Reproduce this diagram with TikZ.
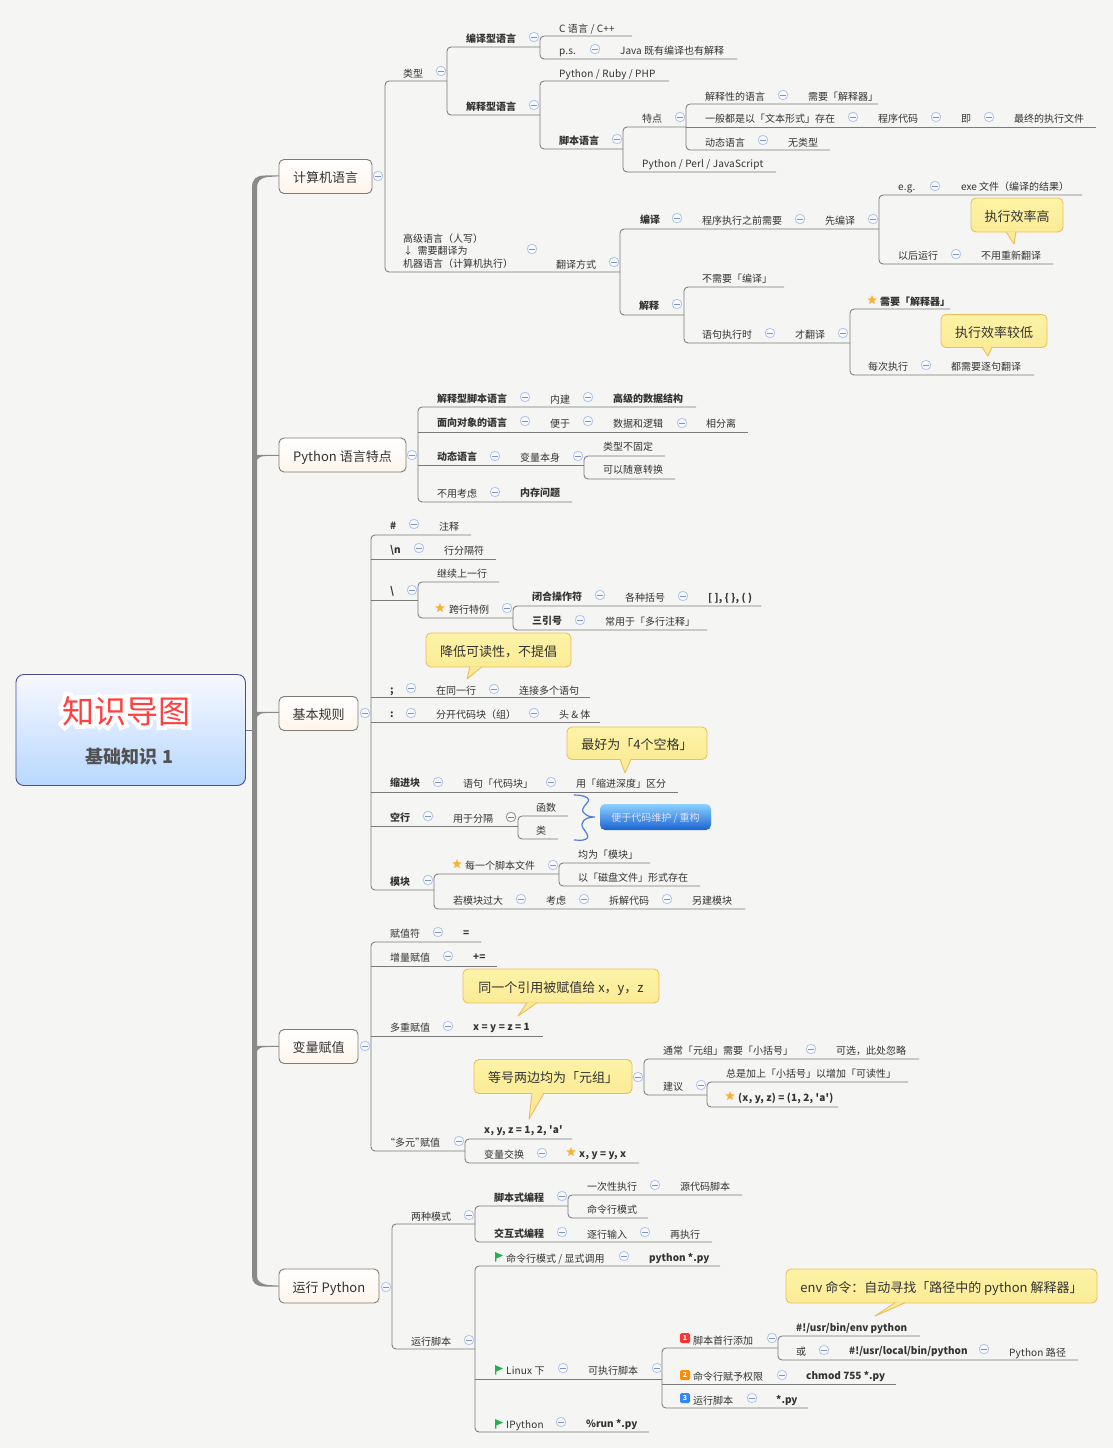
\documentclass[tikz,border=0pt]{standalone}
\usepackage{fontspec}
\setmainfont{Noto Sans CJK SC}[Ligatures=TeXOff]
\usetikzlibrary{shapes.geometric}
\definecolor{paper}{HTML}{F5F5F3}
\definecolor{txt}{HTML}{333333}
\definecolor{rowc}{HTML}{7A7A7A}
\definecolor{trunkc}{HTML}{8A8A8A}
\definecolor{foldc}{HTML}{B4C8F0}
\definecolor{minusc}{HTML}{7F93C4}
\definecolor{staro}{HTML}{F7B23B}
\definecolor{flagg}{HTML}{22B14C}
\definecolor{notet}{HTML}{FDF3A6}
\definecolor{noteb}{HTML}{FBEB96}
\definecolor{noted}{HTML}{EDBE5E}
\definecolor{bracec}{HTML}{4A80D8}
\newcommand{\rowl}[4]{\coordinate (#1a) at (#2,#4); \coordinate (#1b) at (#3,#4);}
\newcommand{\halo}[1]{\rlap{\color{white}\addfontfeature{FakeBold=25}#1}#1}
\tikzset{
  lab/.style={anchor=west,inner sep=0,text=txt,text height=10,text depth=2,font=\fontsize{10}{10}\selectfont},
  labb/.style={lab,font=\fontsize{10}{10}\selectfont\bfseries},
  labl/.style={lab,font=\fontsize{10}{10}\selectfont\addfontfeature{LetterSpace=1.6}},
  labbl/.style={lab,font=\fontsize{10}{10}\selectfont\bfseries\addfontfeature{LetterSpace=2}},
  link/.style={draw=rowc,line width=.85},
  tree/.style={link,rounded corners=4},
  fold/.style={circle,draw=foldc,fill=white!90!foldc,line width=.9,minimum size=9.5,inner sep=0,
    path picture={\draw[minusc,line width=.8] (-2.6,0)--(2.6,0);}},
  foldg/.style={fold,draw=gray!80,path picture={\draw[gray,line width=.8] (-2.6,0)--(2.6,0);}},
  topicb/.style={draw=rowc!90!brown,rounded corners=5,line width=.9,top color=white,bottom color=orange!8,
    inner sep=0,minimum height=34,text=txt,text height=15,text depth=2.4,font=\fontsize{13}{13}\selectfont},
  note/.style={draw=noted,rounded corners=5,line width=.9,top color=notet,bottom color=noteb,
    inner sep=0,minimum height=34,text=txt,text height=15,text depth=2.4,font=\fontsize{13}{13}\selectfont},
  tail/.style={draw=noted,line width=.9,fill=noteb,line join=round},
  starm/.style={star,star points=5,star point ratio=2.3,fill=staro,minimum size=10,inner sep=0},
  numm/.style={fill=#1,rounded corners=1.5,minimum size=10,inner sep=0,text=white,font=\fontsize{7}{7}\selectfont\bfseries},
}
\begin{document}
\begin{tikzpicture}[x=1pt,y=-1pt]
\fill[paper] (0,0) rectangle (1113,1448);
\useasboundingbox (0,0) rectangle (1113,1448);
% trunk
\fill[trunkc] (252,1276) -- (252,188) .. controls (252,179) and (256,175.5) .. (265,175.5) -- (279,175.3) -- (279,176.3) -- (268,177) .. controls (260,178) and (257,181) .. (257,189) -- (257,1276) .. controls (257,1281) and (260,1283.5) .. (268,1285) -- (279,1285.6) -- (279,1286.6) -- (265,1286.5) .. controls (256,1286.5) and (252,1283) .. (252,1276) -- cycle;
\fill[trunkc] (256,455) .. controls (258,455) .. (265,454.8) -- (279,454.8) -- (279,455.8) -- (266,456) .. controls (260,456.5) .. (257,460) -- cycle;
\fill[trunkc] (256,712) .. controls (258,712) .. (265,711.8) -- (279,711.8) -- (279,712.8) -- (266,713) .. controls (260,713.5) .. (257,717) -- cycle;
\fill[trunkc] (256,1046) .. controls (258,1046) .. (265,1045.8) -- (279,1045.8) -- (279,1046.8) -- (266,1047) .. controls (260,1047.5) .. (257,1051) -- cycle;
% root
\node[draw=blue!40!black!70,rounded corners=8,line width=.9,top color=blue!3!white,bottom color=blue!55!cyan!28!white,
  minimum width=229.5,minimum height=111,inner sep=0] (root) at (130.7,730) {};
\node[inner sep=0,text=red!75!white,font=\fontsize{32}{32}\selectfont] (title) at (126,711) {\halo{知识导图}};
\node[inner sep=0,text=black!68,font=\fontsize{18}{18}\selectfont\bfseries] (subt) at (129.5,757) {基础知识 1};
\coordinate (trk) at (252,730);
\draw[link] (root.east) -- (trk);
% main topics
\node[topicb,minimum width=93] (jsj) at (325.5,176.5) {计算机语言};
\node[topicb,minimum width=127] (tese) at (342.5,455) {Python 语言特点};
\node[topicb,minimum width=79] (guize) at (318.5,713.5) {基本规则};
\node[topicb,minimum width=79] (fuzhi) at (318.5,1046.5) {变量赋值};
\node[topicb,minimum width=100] (yunx) at (329,1286) {运行 Python};
% rows: name, left, right, height
\rowl{leix}{385}{447}{81}   \rowl{gaoj}{385}{620}{272}
\rowl{bya}{447}{540}{47}    \rowl{jsa}{447}{540}{115}
\rowl{cl}{540}{632}{36}     \rowl{ps}{540}{737}{59}
\rowl{prp}{540}{669}{81}    \rowl{jbyy}{540}{623}{149}
\rowl{tedian}{623}{686}{127} \rowl{ppj}{623}{776}{172}
\rowl{jxx}{686}{878}{104}   \rowl{ybd}{686}{1096}{127} \rowl{dta}{686}{830}{150}
\rowl{byb}{620}{879}{229}   \rowl{jsb}{620}{684}{315}
\rowl{eg}{879}{1082}{195}   \rowl{yhyx}{879}{1053}{264}
\rowl{bxy}{684}{784}{287}   \rowl{yjzx}{684}{850}{343}
\rowl{xyjs}{850}{950}{309}  \rowl{mczx}{850}{1034}{375}
\rowl{tsa}{418}{696}{407}   \rowl{tsb}{418}{748}{432}
\rowl{tsc}{418}{584}{465}   \rowl{tsd}{418}{572}{502}
\rowl{lxb}{584}{665}{456}   \rowl{ksy}{584}{675}{479}
\rowl{jh}{371}{471}{535}    \rowl{hn}{371}{496}{559}
\rowl{fx}{371}{418}{600}    \rowl{fen}{371}{590}{697}
\rowl{mh}{371}{600}{722}    \rowl{sj}{371}{678}{792}
\rowl{kh}{371}{518}{826}    \rowl{mk}{371}{434}{890}
\rowl{jx}{418}{499}{582}    \rowl{kx}{418}{513}{618}
\rowl{bh}{513}{761}{606}    \rowl{sy}{513}{707}{630}
\rowl{hs}{518}{568}{816}    \rowl{lei}{518}{558}{839}
\rowl{mg}{434}{559}{874}    \rowl{rg}{434}{745}{909}
\rowl{jw}{559}{650}{863}    \rowl{yc}{559}{700}{886}
\rowl{fz}{371}{481}{942}    \rowl{zl}{371}{497}{966}
\rowl{dc}{371}{543}{1036}   \rowl{dy}{371}{465}{1151}
\rowl{xyz}{465}{572}{1139}  \rowl{jhu}{465}{639}{1163}
\rowl{tc}{644}{919}{1059}   \rowl{jy}{644}{707}{1095}
\rowl{zs}{707}{908}{1082}   \rowl{xx}{707}{838}{1107}
\rowl{lz}{392}{475}{1224}   \rowl{yx}{392}{475}{1349}
\rowl{jbs}{475}{568}{1206}  \rowl{jhs}{475}{712}{1242}
\rowl{ycx}{568}{742}{1195}  \rowl{mlm}{568}{648}{1218}
\rowl{mld}{475}{720}{1266}  \rowl{lx}{475}{662}{1379}  \rowl{ip}{475}{649}{1432}
\rowl{sh}{662}{778}{1348}   \rowl{qx}{662}{896}{1384}  \rowl{yj}{662}{808}{1408}
\rowl{envp}{778}{920}{1336} \rowl{huo}{778}{1078}{1360}
% connectors
\draw[tree] (leixb)--(leixa)--(gaoja)--(gaojb);
\draw[tree] (byab)--(byaa)--(jsaa)--(jsab);
\draw[tree] (clb)--(cla)--(psa)--(psb);
\draw[tree] (prpb)--(prpa)--(jbyya)--(jbyyb);
\draw[tree] (tedianb)--(tediana)--(ppja)--(ppjb);
\draw[tree] (jxxb)--(jxxa)--(dtaa)--(dtab);
\draw[link] (ybda)--(ybdb);
\draw[tree] (bybb)--(byba)--(jsba)--(jsbb);
\draw[tree] (egb)--(ega)--(yhyxa)--(yhyxb);
\draw[tree] (bxyb)--(bxya)--(yjzxa)--(yjzxb);
\draw[tree] (xyjsb)--(xyjsa)--(mczxa)--(mczxb);
\draw[tree] (tsab)--(tsaa)--(tsda)--(tsdb);
\draw[link] (tsba)--(tsbb);
\draw[link] (tsca)--(tscb);
\draw[tree] (lxbb)--(lxba)--(ksya)--(ksyb);
\draw[tree] (jhb)--(jha)--(mka)--(mkb);
\draw[link] (hna)--(hnb);
\draw[link] (fxa)--(fxb);
\draw[link] (fena)--(fenb);
\draw[link] (mha)--(mhb);
\draw[link] (sja)--(sjb);
\draw[link] (kha)--(khb);
\draw[tree] (jxb)--(jxa)--(kxa)--(kxb);
\draw[tree] (bhb)--(bha)--(sya)--(syb);
\draw[tree] (hsb)--(hsa)--(leia)--(leib);
\draw[tree] (mgb)--(mga)--(rga)--(rgb);
\draw[tree] (jwb)--(jwa)--(yca)--(ycb);
\draw[tree] (fzb)--(fza)--(dya)--(dyb);
\draw[link] (zla)--(zlb);
\draw[link] (dca)--(dcb);
\draw[tree] (xyzb)--(xyza)--(jhua)--(jhub);
\draw[tree] (tcb)--(tca)--(jya)--(jyb);
\draw[tree] (zsb)--(zsa)--(xxa)--(xxb);
\draw[tree] (lzb)--(lza)--(yxa)--(yxb);
\draw[tree] (jbsb)--(jbsa)--(jhsa)--(jhsb);
\draw[tree] (ycxb)--(ycxa)--(mlma)--(mlmb);
\draw[tree] (mldb)--(mlda)--(ipa)--(ipb);
\draw[link] (lxa)--(lxb);
\draw[tree] (shb)--(sha)--(yja)--(yjb);
\draw[link] (qxa)--(qxb);
\draw[tree] (envpb)--(envpa)--(huoa)--(huob);
% fold marks
\foreach \x/\y in {378/176,441/71,534/37,595/49,534/105,617/139,680/117,783/95,853/117,936/117,989/117,763/140,
  532/249,614/262,677/218,800/219,873/219,935/186,956/254,677/304,770/333,843/333,926/365,
  412/455,525/397,588/397,525/421,588/421,682/423,495/456,578/456,495/492,
  365/713,414/524,419/548,412/590,507/608,600/595,683/596,580/620,411/688,494/689,411/713,534/713,
  438/782,551/782,428/816,428/880,553/865,521/899,584/899,667/899,
  365/1046,438/932,448/956,448/1026,459/1141,638/1077,811/1049,701/1085,542/1153,
  386/1287,469/1215,562/1196,562/1232,655/1185,645/1232,469/1340,624/1256,563/1368,657/1368,561/1422,
  772/1338,824/1350,984/1349,782/1375,752/1398}
  \node[fold] (f\x-\y) at (\x,\y) {};
\node[foldg] (fkh) at (511,817) {};
% texts: computer languages
\node[lab] (a1) at (403,73) {类型};
\node[labb] (a2) at (466,38) {编译型语言};
\node[labl] (a3) at (559,28) {C 语言 / C++};
\node[labl] (a4) at (559,50) {p.s.};
\node[lab] (a5) at (620,50) {Java 既有编译也有解释};
\node[labb] (a6) at (466,106) {解释型语言};
\node[labl] (a7) at (559,73) {Python / Ruby / PHP};
\node[labb] (a8) at (559,140) {脚本语言};
\node[lab] (a9) at (642,118) {特点};
\node[lab] (a10) at (705,96) {解释性的语言};
\node[lab] (a11) at (808,96) {需要「解释器」};
\node[lab] (a12) at (705,118) {一般都是以「文本形式」存在};
\node[lab] (a13) at (878,118) {程序代码};
\node[lab] (a14) at (961,118) {即};
\node[lab] (a15) at (1014,118) {最终的执行文件};
\node[lab] (a16) at (705,142) {动态语言};
\node[lab] (a17) at (788,142) {无类型};
\node[labl] (a18) at (642,163) {Python / Perl / JavaScript};
\node[anchor=west,inner sep=0,align=left,text=txt,font=\fontsize{10}{12.5}\selectfont] (a19) at (403,251) {高级语言（人写）\\↓\ \ 需要翻译为\\机器语言（计算机执行）};
\node[lab] (a20) at (556,264) {翻译方式};
\node[labb] (a21) at (640,219) {编译};
\node[lab] (a22) at (702,220) {程序执行之前需要};
\node[lab] (a23) at (825,220) {先编译};
\node[labl] (a24) at (898,186) {e.g.};
\node[lab] (a25) at (961,186) {exe 文件（编译的结果）};
\node[lab] (a26) at (898,255) {以后运行};
\node[lab] (a27) at (981,255) {不用重新翻译};
\node[labb] (a28) at (639,305) {解释};
\node[lab] (a29) at (702,278) {不需要「编译」};
\node[lab] (a30) at (702,334) {语句执行时};
\node[lab] (a31) at (795,334) {才翻译};
\node[starm] (a32) at (872,300) {};
\node[labb] (a33) at (880,301) {需要「解释器」};
\node[lab] (a34) at (868,366) {每次执行};
\node[lab] (a35) at (951,366) {都需要逐句翻译};
\node[note,minimum width=92] (n1) at (1017,215) {执行效率高};
\filldraw[tail] (1006,231.7) -- (1014,244) -- (1016,231.7);
\node[note,minimum width=106,minimum height=33] (n2) at (994,331) {执行效率较低};
\filldraw[tail] (982,347.2) -- (988,356) -- (992,347.2);
% texts: python features
\node[labb] (b1) at (437,398) {解释型脚本语言};
\node[lab] (b2) at (550,399) {内建};
\node[labb] (b3) at (613,398) {高级的数据结构};
\node[labb] (b4) at (437,422) {面向对象的语言};
\node[lab] (b5) at (550,423) {便于};
\node[lab] (b6) at (613,423) {数据和逻辑};
\node[lab] (b7) at (706,423) {相分离};
\node[labb] (b8) at (437,456) {动态语言};
\node[lab] (b9) at (520,457) {变量本身};
\node[lab] (b10) at (603,446) {类型不固定};
\node[lab] (b11) at (603,469) {可以随意转换};
\node[lab] (b12) at (437,493) {不用考虑};
\node[labb] (b13) at (520,492) {内存问题};
% texts: basic rules
\node[labb] (c1) at (390,525) {\#};
\node[lab] (c2) at (439,526) {注释};
\node[labb] (c3) at (390,549) {\textbackslash n};
\node[lab] (c4) at (444,550) {行分隔符};
\node[labb] (c5) at (390,590) {\textbackslash};
\node[lab] (c6) at (437,573) {继续上一行};
\node[starm] (c7) at (440,608) {};
\node[lab] (c8) at (449,609) {跨行特例};
\node[labb] (c9) at (532,596) {闭合操作符};
\node[lab] (c10) at (625,597) {各种括号};
\node[labbl] (c11) at (708,597) {[ ], \{ \}, ( )};
\node[labb] (c12) at (532,620) {三引号};
\node[lab] (c13) at (605,621) {常用于「多行注释」};
\node[note,minimum width=145] (n3) at (498.5,650) {降低可读性，不提倡};
\filldraw[tail] (470,666.7) -- (467,679) -- (482,666.7);
\node[labb] (c14) at (390,689) {;};
\node[lab] (c15) at (436,690) {在同一行};
\node[lab] (c16) at (519,690) {连接多个语句};
\node[labb] (c17) at (390,713) {:};
\node[lab] (c18) at (436,714) {分开代码块（组）};
\node[lab] (c19) at (559,714) {头 \& 体};
\node[note,minimum width=140,minimum height=32.5] (n4) at (637,743.2) {最好为「4个空格」};
\filldraw[tail] (620,759.2) -- (625,773) -- (631,759.2);
\node[labb] (c20) at (390,782) {缩进块};
\node[lab] (c21) at (463,783) {语句「代码块」};
\node[lab] (c22) at (576,783) {用「缩进深度」区分};
\node[labb] (c23) at (390,817) {空行};
\node[lab] (c24) at (453,818) {用于分隔};
\node[lab] (c25) at (536,807) {函数};
\node[lab] (c26) at (536,830) {类};
\draw[bracec,line width=1.2] (574,795) .. controls (584,795) and (592,798) .. (587,803) .. controls (583,807) and (581,811) .. (584,813) .. controls (587,816) and (590,817) .. (595,817) .. controls (590,817) and (583,818) .. (582,824) .. controls (581,829) and (592,836) .. (586,839) .. controls (583,841) and (578,840) .. (574,840);
\node[rounded corners=5,top color=blue!40!cyan!45!white,bottom color=blue!60!cyan!80!black!90,inner sep=0,minimum width=111,minimum height=26,text=white!88!blue,text height=12,text depth=2.4,font=\fontsize{10}{10}\selectfont] (c27) at (655.5,817) {便于代码维护 / 重构};
\node[labb] (c28) at (390,881) {模块};
\node[starm] (c29) at (457,864) {};
\node[lab] (c30) at (465,865) {每一个脚本文件};
\node[lab] (c31) at (578,854) {均为「模块」};
\node[lab] (c32) at (578,877) {以「磁盘文件」形式存在};
\node[lab] (c33) at (453,900) {若模块过大};
\node[lab] (c34) at (546,900) {考虑};
\node[lab] (c35) at (609,900) {拆解代码};
\node[lab] (c36) at (692,900) {另建模块};
% texts: assignment
\node[lab] (d1) at (390,933) {赋值符};
\node[labb] (d2) at (463,932) {=};
\node[lab] (d3) at (390,957) {增量赋值};
\node[labb] (d4) at (473,956) {+=};
\node[note,minimum width=196] (n5) at (561,986) {同一个引用被赋值给 x，y，z};
\filldraw[tail] (527,1002.7) -- (518,1016) -- (537,1002.7);
\node[lab] (d5) at (390,1027) {多重赋值};
\node[labbl] (d6) at (473,1026) {x = y = z = 1};
\node[lab] (d7) at (663,1050) {通常「元组」需要「小括号」};
\node[lab] (d8) at (836,1050) {可选，此处忽略};
\node[lab] (d9) at (663,1086) {建议};
\node[lab] (d10) at (726,1073) {总是加上「小括号」以增加「可读性」};
\node[starm] (d11) at (730,1096) {};
\node[labbl] (d12) at (738,1097) {(x, y, z) = (1, 2, 'a')};
\node[note,minimum width=158] (n6) at (553,1076.5) {等号两边均为「元组」};
\filldraw[tail] (532,1093.2) -- (529,1119) -- (544,1093.2);
\node[lab] (d13) at (390,1142) {\hspace{-5pt}“多元”\hspace{-5pt}赋值};
\node[labbl] (d14) at (484,1129) {x, y, z = 1, 2, 'a'};
\node[lab] (d15) at (484,1154) {变量交换};
\node[starm] (d16) at (571,1152) {};
\node[labbl] (d17) at (579,1153) {x, y = y, x};
% texts: running
\node[lab] (e1) at (411,1216) {两种模式};
\node[labb] (e2) at (494,1197) {脚本式编程};
\node[lab] (e3) at (587,1186) {一次性执行};
\node[lab] (e4) at (680,1186) {源代码脚本};
\node[lab] (e5) at (587,1209) {命令行模式};
\node[labb] (e6) at (494,1233) {交互式编程};
\node[lab] (e7) at (587,1234) {逐行输入};
\node[lab] (e8) at (670,1234) {再执行};
\node[lab] (e9) at (411,1341) {运行脚本};
\foreach \y in {1252,1365,1419}
  \fill[flagg] (495,\y) -- (503,\y+3.5) -- (496.4,\y+6.5) -- (496.4,\y+9.5) -- (495,\y+9.5) -- cycle;
\node[lab] (e10) at (506,1258) {命令行模式 / 显式调用};
\node[labb] (e11) at (649,1257) {python *.py};
\node[labl] (e12) at (506,1370) {Linux 下};
\node[lab] (e13) at (588,1370) {可执行脚本};
\node[labl] (e14) at (506,1424) {IPython};
\node[labb] (e15) at (586,1423) {\%run *.py};
\node[numm=red!80!white] (e16) at (685,1338) {1};
\node[lab] (e17) at (693,1340) {脚本首行添加};
\node[labb] (e18) at (796,1327) {\#!/usr/bin/env python};
\node[lab] (e19) at (796,1351) {或};
\node[labb] (e20) at (849,1350) {\#!/usr/local/bin/python};
\node[labl] (e21) at (1009,1352) {Python 路径};
\node[numm=orange!90!yellow] (e22) at (685,1375) {2};
\node[lab] (e23) at (693,1376) {命令行赋予权限};
\node[labb] (e24) at (806,1375) {chmod 755 *.py};
\node[numm=blue!60!cyan!80!white] (e25) at (685,1398) {3};
\node[lab] (e26) at (693,1400) {运行脚本};
\node[labb] (e27) at (776,1399) {*.py};
\node[note,minimum width=311] (n7) at (941.5,1286) {env 命令：自动寻找「路径中的 python 解释器」};
\filldraw[tail] (895,1302.7) -- (875,1316) -- (905,1302.7);
\end{tikzpicture}
\end{document}
